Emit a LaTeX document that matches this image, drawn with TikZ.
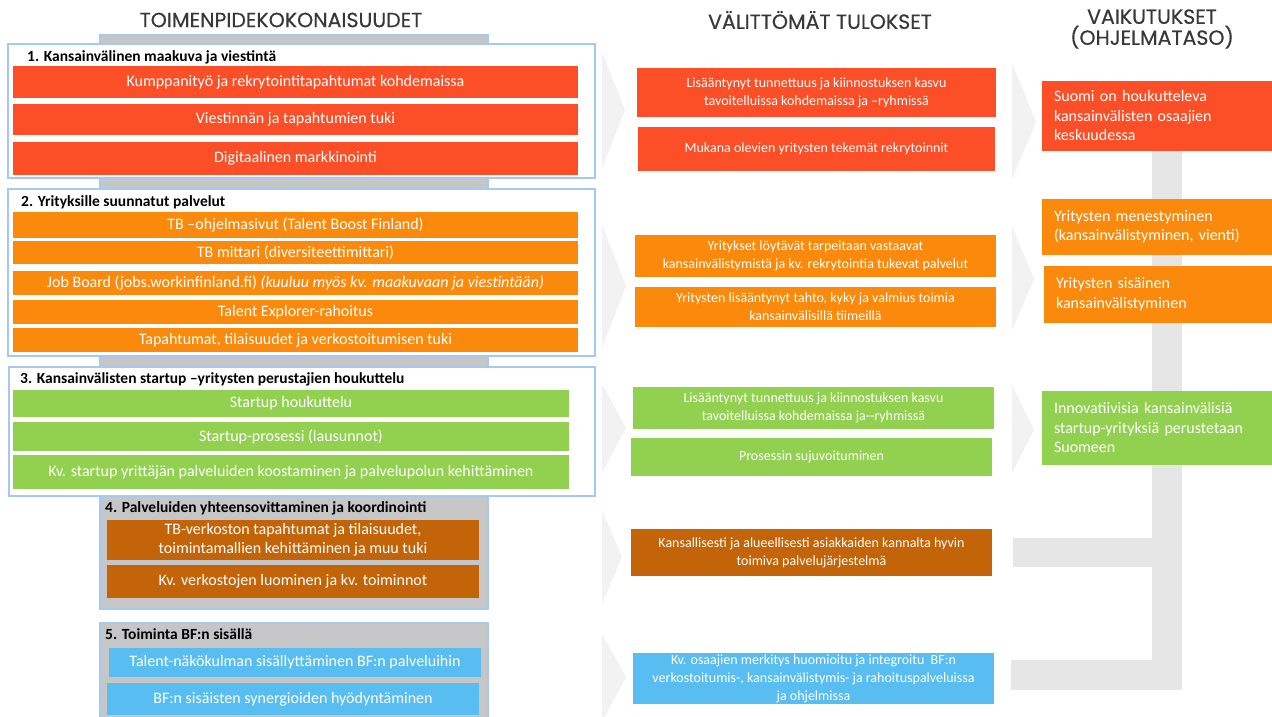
\documentclass[tikz,border=0pt]{standalone}
\usepackage{fontspec}
\setmainfont{Carlito}
\newfontfamily\titlefont[FakeBold=0.5]{Poppins}

\definecolor{cred}{HTML}{FC4F27}
\definecolor{corange}{HTML}{FB8A0C}
\definecolor{cgreen}{HTML}{92D050}
\definecolor{cbrown}{HTML}{C46408}
\definecolor{cblue}{HTML}{58BDF0}
\definecolor{cframe}{HTML}{A6C9F2}
\definecolor{ccol}{HTML}{C6C6C6}
\definecolor{cchev}{HTML}{F2F2F2}
\definecolor{cbrack}{HTML}{E6E6E6}
\definecolor{ctitle}{HTML}{383838}

% box from (x1,y1) to (x2,y2), given in pixel-like units
\newcommand\rectnode[7]{%
  \node[#6, minimum width={#4-#2}, minimum height={#5-#3}]
    (#1) at ({(#2+#4)/2},{(#3+#5)/2}) {#7};}

\tikzset{
  base/.style={inner sep=0pt, outer sep=0pt, draw=none},
  groupbox/.style={base, fill=white, draw=cframe, line width=1.6pt},
  colbox/.style={base, fill=ccol, draw=cframe, line width=1.6pt},
  barbox/.style={base, text=white, align=center,
    font=\fontsize{16}{19}\selectfont},
  resbox/.style={base, text=white, align=center,
    font=\fontsize{14}{18}\selectfont},
  impbox/.style={base, text=white, align=left, text width=214pt,
    inner xsep=12pt, font=\fontsize{16}{19.5}\selectfont},
  grouphead/.style={inner sep=0pt, anchor=west, text=black,
    font=\fontsize{15.5}{18}\selectfont\bfseries},
  coltitle/.style={inner sep=0pt, text=ctitle, align=center,
    font=\titlefont\fontsize{20.5}{21}\selectfont},
  chev/.style={fill=cchev},
  bracket/.style={fill=cbrack},
}

\begin{document}
\begin{tikzpicture}[x=1pt,y=-1pt]
\useasboundingbox (0,0) rectangle (1272,717);
\clip (0,0) rectangle (1272,717);

% column titles
\node[coltitle] (t1) at (281,20) {TOIMENPIDEKOKONAISUUDET};
\node[coltitle] (t2) at (820,20) {VÄLITTÖMÄT TULOKSET};
\node[coltitle] (t3) at (1152,29) {VAIKUTUKSET\\(OHJELMATASO)};

% grey spine behind the action groups
\rectnode{spine}{100}{35}{488}{609}{colbox}{}

% group 1
\rectnode{g1}{8}{44}{595}{178}{groupbox}{}
\node[grouphead] (h1) at (27,57) {1. Kansainvälinen maakuva ja viestintä};
\rectnode{a11}{13}{66}{578}{98}{barbox, fill=cred}{Kumppanityö ja rekrytointitapahtumat kohdemaissa}
\rectnode{a12}{13}{104}{578}{135}{barbox, fill=cred}{Viestinnän ja tapahtumien tuki}
\rectnode{a13}{13}{142}{578}{175}{barbox, fill=cred}{Digitaalinen markkinointi}

% group 2
\rectnode{g2}{8}{189}{595}{356}{groupbox}{}
\node[grouphead] (h2) at (21,202) {2. Yrityksille suunnatut palvelut};
\rectnode{a21}{13}{212}{578}{238}{barbox, fill=corange}{TB –ohjelmasivut (Talent Boost Finland)}
\rectnode{a22}{13}{241}{578}{264}{barbox, fill=corange}{TB mittari (diversiteettimittari)}
\rectnode{a23}{13}{271}{578}{295}{barbox, fill=corange}{Job Board (jobs.workinfinland.fi) \textit{(kuuluu myös kv. maakuvaan ja viestintään)}}
\rectnode{a24}{13}{300}{578}{324}{barbox, fill=corange}{Talent Explorer-rahoitus}
\rectnode{a25}{13}{328}{578}{352}{barbox, fill=corange}{Tapahtumat, tilaisuudet ja verkostoitumisen tuki}

% group 3
\rectnode{g3}{9}{367}{595}{496}{groupbox}{}
\node[grouphead] (h3) at (20,379) {3. Kansainvälisten startup –yritysten perustajien houkuttelu};
\rectnode{a31}{13}{390}{569}{417}{barbox, fill=cgreen}{Startup houkuttelu}
\rectnode{a32}{13}{422}{569}{451}{barbox, fill=cgreen}{Startup-prosessi (lausunnot)}
\rectnode{a33}{13}{455}{569}{489}{barbox, fill=cgreen}{Kv. startup yrittäjän palveluiden koostaminen ja palvelupolun kehittäminen}

% group 4 (on the spine)
\node[grouphead] (h4) at (105,508) {4. Palveluiden yhteensovittaminen ja koordinointi};
\rectnode{a41}{107}{520}{479}{560}{barbox, fill=cbrown}{TB-verkoston tapahtumat ja tilaisuudet,\\toimintamallien kehittäminen ja muu tuki}
\rectnode{a42}{107}{565}{479}{598}{barbox, fill=cbrown}{Kv. verkostojen luominen ja kv. toiminnot}

% group 5
\rectnode{g5}{100}{623}{488}{735}{colbox}{}
\node[grouphead] (h5) at (105,634) {5. Toiminta BF:n sisällä};
\rectnode{a51}{109}{648}{481}{677}{barbox, fill=cblue}{Talent-näkökulman sisällyttäminen BF:n palveluihin}
\rectnode{a52}{107}{683}{479}{715}{barbox, fill=cblue}{BF:n sisäisten synergioiden hyödyntäminen}

% chevrons from actions to outputs
\fill[chev] (602,52) -- (625,110) -- (602,168) -- cycle;
\fill[chev] (602,225) -- (626,286) -- (602,348) -- cycle;
\fill[chev] (602,384) -- (626,428) -- (602,473) -- cycle;
\fill[chev] (602,510) -- (622,557) -- (602,604) -- cycle;
\fill[chev] (602,634) -- (626,677) -- (602,722) -- cycle;

% chevrons from outputs to impacts
\fill[chev] (1012,63) -- (1036,122) -- (1012,180) -- cycle;
\fill[chev] (1012,226) -- (1034,279) -- (1012,331) -- cycle;
\fill[chev] (1012,385) -- (1034,430) -- (1012,473) -- cycle;

% grey bracket collecting the lower outputs
\fill[bracket] (1152,140) rectangle (1182,690);
\fill[bracket] (1013,538) rectangle (1160,567);
\fill[bracket] (1011,660) rectangle (1182,690);

% immediate outputs
\rectnode{m1}{637}{68}{996}{117}{resbox, fill=cred}{Lisääntynyt tunnettuus ja kiinnostuksen kasvu\\tavoitelluissa kohdemaissa ja –ryhmissä}
\rectnode{m2}{638}{127}{995}{171}{resbox, fill=cred}{Mukana olevien yritysten tekemät rekrytoinnit}
\rectnode{m3}{635}{235}{996}{277}{resbox, fill=corange}{Yritykset löytävät tarpeitaan vastaavat\\kansainvälistymistä ja kv. rekrytointia tukevat palvelut}
\rectnode{m4}{635}{287}{996}{327}{resbox, fill=corange}{Yritysten lisääntynyt tahto, kyky ja valmius toimia\\kansainvälisillä tiimeillä}
\rectnode{m5}{633}{387}{994}{429}{resbox, fill=cgreen}{Lisääntynyt tunnettuus ja kiinnostuksen kasvu\\tavoitelluissa kohdemaissa ja-{}-ryhmissä}
\rectnode{m6}{631}{438}{992}{476}{resbox, fill=cgreen}{Prosessin sujuvoituminen}
\rectnode{m7}{631}{529}{992}{576}{resbox, fill=cbrown}{Kansallisesti ja alueellisesti asiakkaiden kannalta hyvin\\toimiva palvelujärjestelmä}
\rectnode{m8}{633}{653}{994}{704}{resbox, fill=cblue}{Kv. osaajien merkitys huomioitu ja integroitu\ \ BF:n\\verkostoitumis-, kansainvälistymis- ja rahoituspalveluissa\\ja ohjelmissa}

% programme-level impacts
\rectnode{i1}{1042}{81}{1280}{151}{impbox, fill=cred}{Suomi on houkutteleva\\kansainvälisten osaajien\\keskuudessa}
\rectnode{i2}{1042}{199}{1280}{255}{impbox, fill=corange}{Yritysten menestyminen\\(kansainvälistyminen, vienti)}
\rectnode{i3}{1044}{266}{1282}{323}{impbox, fill=corange}{Yritysten sisäinen\\kansainvälistyminen}
\rectnode{i4}{1042}{391}{1280}{465}{impbox, fill=cgreen}{Innovatiivisia kansainvälisiä\\startup-yrityksiä perustetaan\\Suomeen}
\end{tikzpicture}
\end{document}
